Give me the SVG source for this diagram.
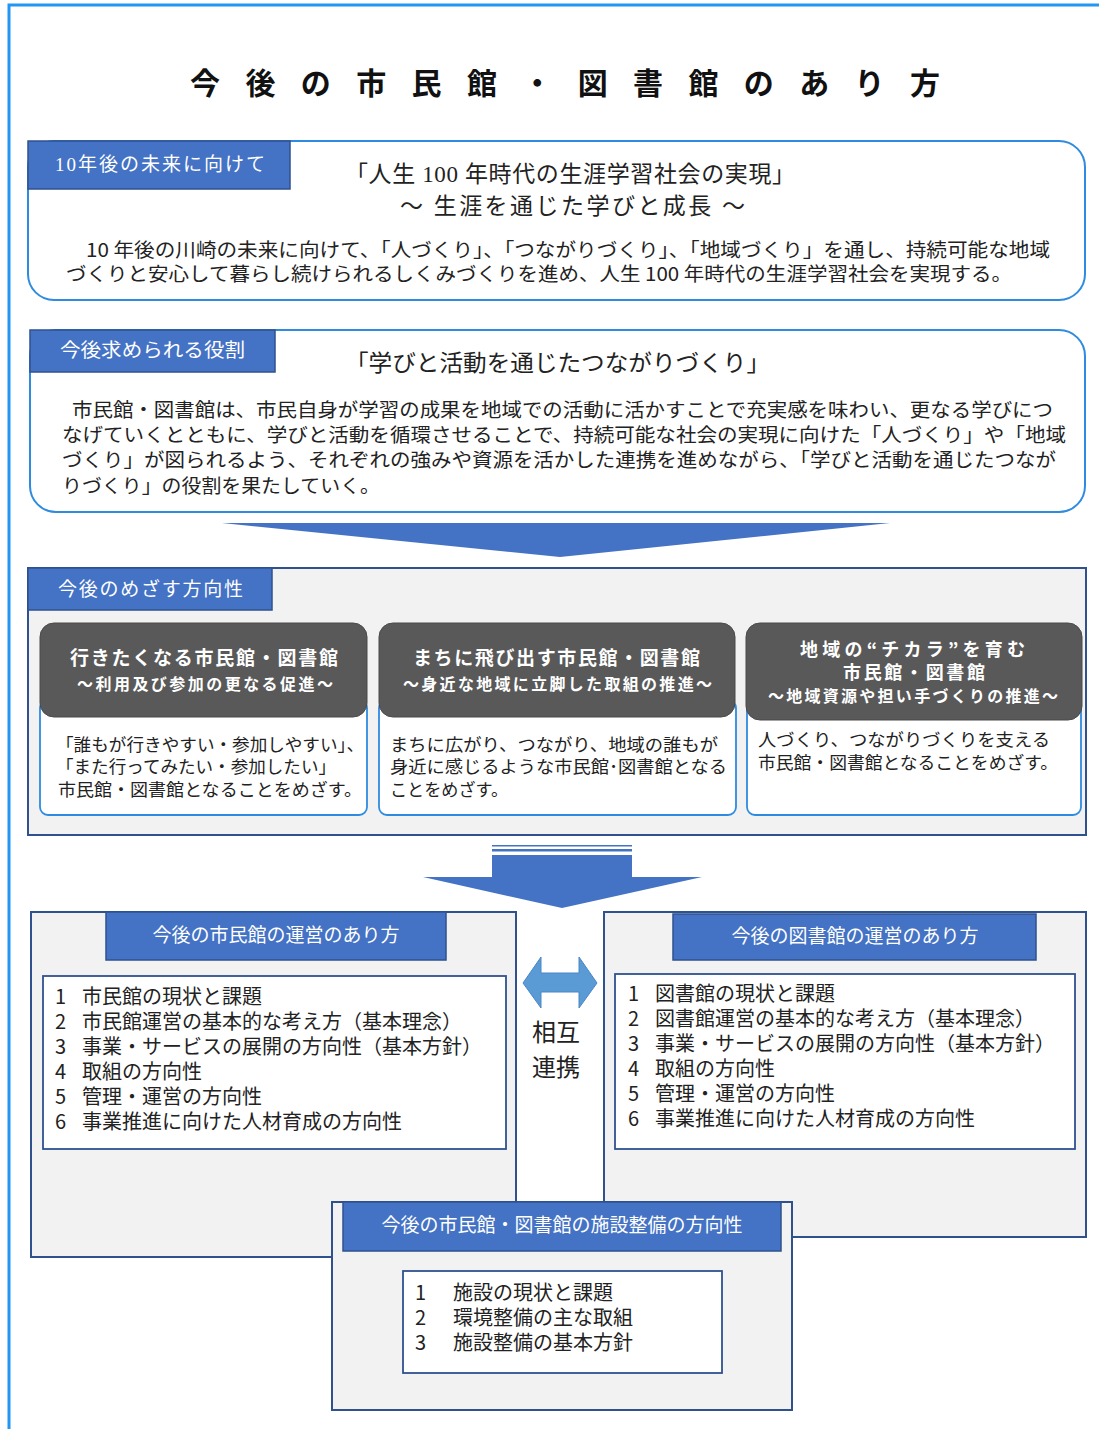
<svg xmlns="http://www.w3.org/2000/svg" width="1099" height="1429" viewBox="0 0 1099 1429">
<style>
text{font-family:"Noto Sans CJK JP","Noto Sans",sans-serif;fill:#222}
.ser{font-family:"Liberation Serif","Noto Sans CJK JP",serif}
.tab{fill:#4472C4;stroke:#2F528F;stroke-width:1.5}
.tabt{fill:#fff;font-size:19px}
.rbox{fill:#fff;stroke:#2E8BE0;stroke-width:2}
.panel{fill:#F2F2F2;stroke:#2F528F;stroke-width:2}
.hdr{fill:#595959;stroke:#4a4a4a;stroke-width:1}
.hdrt{fill:#fff;font-weight:700}
.card{fill:#fff;stroke:#2E8BE0;stroke-width:1.8}
.body{font-size:19px}
.cbody{font-size:17.5px}
.list{font-size:20px}
.inner{fill:#fff;stroke:#2F528F;stroke-width:1.8}
.arrow{fill:#4472C4}
</style>
<rect x="0" y="0" width="1099" height="1429" fill="#fff"/>
<rect x="9" y="5" width="1110" height="1450" fill="none" stroke="#2196F3" stroke-width="3"/>

<g id="title">
<text x="190" y="94" font-size="30" font-weight="700" textLength="750" lengthAdjust="spacing" style="fill:#111">今後の市民館・図書館のあり方</text>
</g>

<g id="future">
<rect class="rbox" x="28" y="141" width="1057" height="159" rx="26"/>
<rect class="tab" x="28" y="141" width="262" height="48"/>
<text class="tabt ser" x="55" y="171" font-size="18" textLength="210">10年後の未来に向けて</text>
<text class="ser" x="345" y="182" font-size="23" textLength="450">「人生 100 年時代の生涯学習社会の実現」</text>
<text class="ser" x="400" y="214" font-size="23" textLength="345">～ 生涯を通じた学びと成長 ～</text>
<text class="body" x="86" y="257" textLength="964" lengthAdjust="spacingAndGlyphs">10 年後の川崎の未来に向けて、「人づくり」、「つながりづくり」、「地域づくり」を通し、持続可能な地域</text>
<text class="body" x="66" y="281" textLength="946" lengthAdjust="spacingAndGlyphs">づくりと安心して暮らし続けられるしくみづくりを進め、人生 100 年時代の生涯学習社会を実現する。</text>
</g>

<g id="role">
<rect class="rbox" x="30" y="330" width="1055" height="182" rx="26"/>
<rect class="tab" x="30" y="330" width="245" height="42"/>
<text class="tabt" x="60" y="357" textLength="185" lengthAdjust="spacingAndGlyphs">今後求められる役割</text>
<text x="345" y="371" font-size="23" textLength="425" lengthAdjust="spacingAndGlyphs">「学びと活動を通じたつながりづくり」</text>
<text class="body" x="72" y="417" textLength="981" lengthAdjust="spacingAndGlyphs">市民館・図書館は、市民自身が学習の成果を地域での活動に活かすことで充実感を味わい、更なる学びにつ</text>
<text class="body" x="62" y="442" textLength="1004" lengthAdjust="spacingAndGlyphs">なげていくとともに、学びと活動を循環させることで、持続可能な社会の実現に向けた「人づくり」や「地域</text>
<text class="body" x="62" y="467" textLength="994" lengthAdjust="spacingAndGlyphs">づくり」が図られるよう、それぞれの強みや資源を活かした連携を進めながら、「学びと活動を通じたつなが</text>
<text class="body" x="62" y="493" textLength="318" lengthAdjust="spacingAndGlyphs">りづくり」の役割を果たしていく。</text>
</g>

<g id="direction">
<rect class="panel" x="28" y="568" width="1058" height="267"/>
<rect class="tab" x="28" y="568" width="244" height="42"/>
<text class="tabt" x="58" y="596" textLength="185">今後のめざす方向性</text>
</g>

<g id="card1">
<rect class="card" x="40" y="700" width="327" height="115" rx="8"/>
<rect class="hdr" x="40" y="623" width="327" height="94" rx="14"/>
<text class="hdrt" x="70" y="665" font-size="19" textLength="268">行きたくなる市民館・図書館</text>
<text class="hdrt" x="77" y="690" font-size="16" textLength="256">～利用及び参加の更なる促進～</text>
<text class="cbody" x="56" y="751" textLength="308" lengthAdjust="spacingAndGlyphs">「誰もが行きやすい・参加しやすい」、</text>
<text class="cbody" x="56" y="773" textLength="280" lengthAdjust="spacingAndGlyphs">「また行ってみたい・参加したい」</text>
<text class="cbody" x="58" y="796" textLength="304" lengthAdjust="spacingAndGlyphs">市民館・図書館となることをめざす。</text>
</g>

<g id="card2">
<rect class="card" x="379" y="700" width="357" height="115" rx="8"/>
<rect class="hdr" x="379" y="623" width="356" height="94" rx="14"/>
<text class="hdrt" x="413" y="665" font-size="19" textLength="287">まちに飛び出す市民館・図書館</text>
<text class="hdrt" x="403" y="690" font-size="16" textLength="309">～身近な地域に立脚した取組の推進～</text>
<text class="cbody" x="390" y="751" textLength="328" lengthAdjust="spacingAndGlyphs">まちに広がり、つながり、地域の誰もが</text>
<text class="cbody" x="390" y="773" textLength="337" lengthAdjust="spacingAndGlyphs">身近に感じるような市民館･図書館となる</text>
<text class="cbody" x="390" y="796" textLength="118" lengthAdjust="spacingAndGlyphs">ことをめざす。</text>
</g>

<g id="card3">
<rect class="card" x="747" y="700" width="334" height="115" rx="8"/>
<rect class="hdr" x="746" y="623" width="336" height="97" rx="14"/>
<text class="hdrt" x="800" y="656" font-size="18" textLength="225">地域の“チカラ”を育む</text>
<text class="hdrt" x="843" y="679" font-size="18" textLength="142">市民館・図書館</text>
<text class="hdrt" x="768" y="702" font-size="16" textLength="290">～地域資源や担い手づくりの推進～</text>
<text class="cbody" x="758" y="746" textLength="292" lengthAdjust="spacingAndGlyphs">人づくり、つながりづくりを支える</text>
<text class="cbody" x="758" y="769" textLength="300" lengthAdjust="spacingAndGlyphs">市民館・図書館となることをめざす。</text>
</g>

<g id="shimin">
<rect class="panel" x="31" y="912" width="485" height="345"/>
<rect class="tab" x="106" y="912" width="340" height="48"/>
<text class="tabt ser" x="276" y="942" text-anchor="middle" font-size="20">今後の市民館の運営のあり方</text>
<rect class="inner" x="43" y="976" width="463" height="173"/>
<text class="list" y="1004"><tspan x="55">1</tspan><tspan x="82">市民館の現状と課題</tspan></text>
<text class="list" y="1029"><tspan x="55">2</tspan><tspan x="82">市民館運営の基本的な考え方（基本理念）</tspan></text>
<text class="list" y="1054"><tspan x="55">3</tspan><tspan x="82">事業・サービスの展開の方向性（基本方針）</tspan></text>
<text class="list" y="1079"><tspan x="55">4</tspan><tspan x="82">取組の方向性</tspan></text>
<text class="list" y="1104"><tspan x="55">5</tspan><tspan x="82">管理・運営の方向性</tspan></text>
<text class="list" y="1129"><tspan x="55">6</tspan><tspan x="82">事業推進に向けた人材育成の方向性</tspan></text>
</g>

<g id="toshokan">
<rect class="panel" x="604" y="912" width="482" height="325"/>
<rect class="tab" x="673" y="914" width="363" height="46"/>
<text class="tabt ser" x="855" y="943" text-anchor="middle" font-size="20">今後の図書館の運営のあり方</text>
<rect class="inner" x="615" y="974" width="460" height="175"/>
<text class="list" y="1001"><tspan x="628">1</tspan><tspan x="655">図書館の現状と課題</tspan></text>
<text class="list" y="1026"><tspan x="628">2</tspan><tspan x="655">図書館運営の基本的な考え方（基本理念）</tspan></text>
<text class="list" y="1051"><tspan x="628">3</tspan><tspan x="655">事業・サービスの展開の方向性（基本方針）</tspan></text>
<text class="list" y="1076"><tspan x="628">4</tspan><tspan x="655">取組の方向性</tspan></text>
<text class="list" y="1101"><tspan x="628">5</tspan><tspan x="655">管理・運営の方向性</tspan></text>
<text class="list" y="1126"><tspan x="628">6</tspan><tspan x="655">事業推進に向けた人材育成の方向性</tspan></text>
</g>

<g id="shisetsu">
<rect class="panel" x="332" y="1202" width="460" height="208"/>
<rect class="tab" x="343" y="1202" width="438" height="49"/>
<text class="tabt ser" x="562" y="1232" text-anchor="middle" font-size="20">今後の市民館・図書館の施設整備の方向性</text>
<rect class="inner" x="403" y="1271" width="319" height="102"/>
<text class="list" y="1300"><tspan x="415">1</tspan><tspan x="453">施設の現状と課題</tspan></text>
<text class="list" y="1325"><tspan x="415">2</tspan><tspan x="453">環境整備の主な取組</tspan></text>
<text class="list" y="1350"><tspan x="415">3</tspan><tspan x="453">施設整備の基本方針</tspan></text>
</g>

<g id="connectors">
<polygon class="arrow" points="222,523 890,523 560,557"/>
<rect class="arrow" x="492" y="845" width="140" height="1.5"/>
<rect class="arrow" x="492" y="849" width="140" height="2.5"/>
<polygon class="arrow" points="492,855 632,855 632,877 702,877 562,908 423,877 492,877"/>
<polygon points="523,983 541,957 541,973 579,973 579,957 597,983 579,1008 579,992 541,992 541,1008" fill="#5B9BD5" stroke="#4A86C5" stroke-width="1"/>
<text x="556" y="1041" font-size="24" text-anchor="middle">相互</text>
<text x="556" y="1076" font-size="24" text-anchor="middle">連携</text>
</g>
</svg>
